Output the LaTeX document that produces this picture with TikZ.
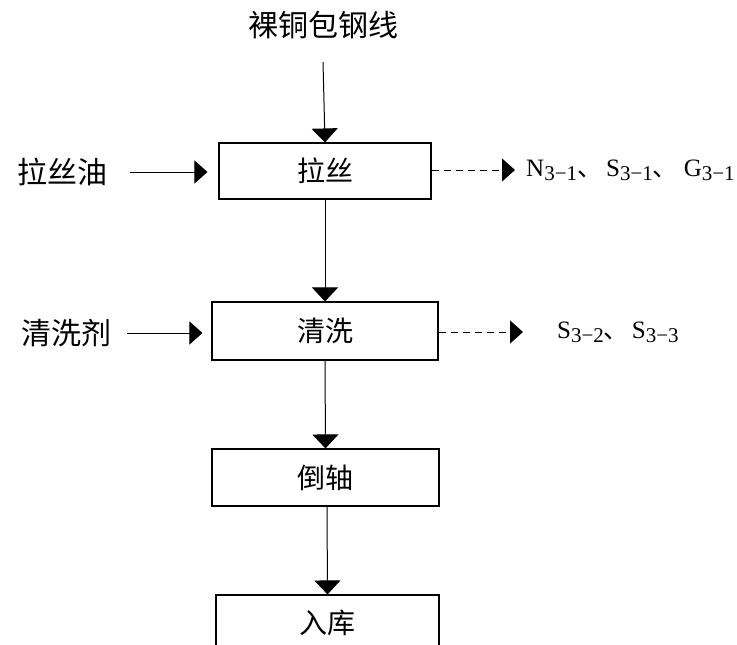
\documentclass[tikz,border=0pt]{standalone}
\usepackage{fontspec}
\setmainfont{Liberation Serif}
\newfontfamily\cjk{Noto Sans CJK SC}
\usetikzlibrary{arrows.meta}
\newcommand{\lowsub}[1]{\raisebox{-4pt}{\fontsize{21}{21}\selectfont #1}}
\begin{document}
\begin{tikzpicture}[x=1pt,y=-1pt,
  every node/.style={inner sep=0pt},
  procbox/.style={draw, line width=1.1pt, font=\cjk\fontsize{28}{32}\selectfont},
  lbl/.style={font=\cjk\fontsize{30}{34}\selectfont},
  outlbl/.style={anchor=west, font=\fontsize{25}{28}\selectfont},
  arr/.style={line width=1pt, -{Triangle[length=14pt,width=26pt]}},
  harr/.style={line width=1pt, -{Triangle[length=13pt,width=23pt]}},
  darr/.style={line width=1pt, dash pattern=on 7pt off 5pt, -{Triangle[length=13pt,width=23pt]}}
]
\useasboundingbox (0,0) rectangle (737,645);
\fill[white] (0,0) rectangle (737,645);

\node[lbl, minimum height=74pt] (title) at (323,25) {裸铜包钢线};

\node[procbox, minimum width=212pt, minimum height=56pt] (lasi) at (325,171) {拉丝};
\node[procbox, minimum width=226pt, minimum height=58pt] (qingxi) at (325,331) {清洗};
\node[procbox, minimum width=227pt, minimum height=57pt] (dao) at (325.5,477.5) {倒轴};
\node[procbox, minimum width=223pt, minimum height=56pt] (ruku) at (327.5,623) {入库};

\node[lbl, minimum width=136pt] (oil) at (62,172) {拉丝油};
\node[lbl, minimum width=122pt] (clean) at (66,333) {清洗剂};

\node[outlbl] (o1) at (526,170) {N\lowsub{3−1}{\cjk 、}\hspace{4pt}S\lowsub{3−1}{\cjk 、}\hspace{6pt}G\lowsub{3−1}};
\node[outlbl] (o2) at (557,332) {S\lowsub{3−2}{\cjk 、}\hspace{3pt}S\lowsub{3−3}};

\draw[arr] (title.south) -- (lasi.north);
\draw[arr] (lasi.south) -- (qingxi.north);
\draw[arr] (qingxi.south) -- (dao.north);
\draw[arr] ([xshift=1.5pt]dao.south) -- (ruku.north);

\draw[harr, shorten >=11pt] (oil.east) -- (oil.east -| lasi.west);
\draw[harr, shorten >=9pt] (clean.east) -- (clean.east -| qingxi.west);

\draw[darr, shorten >=11pt] (lasi.east |- o1.west) -- (o1.west);
\draw[darr, shorten >=34pt] (qingxi.east |- o2.west) -- (o2.west);
\end{tikzpicture}
\end{document}
